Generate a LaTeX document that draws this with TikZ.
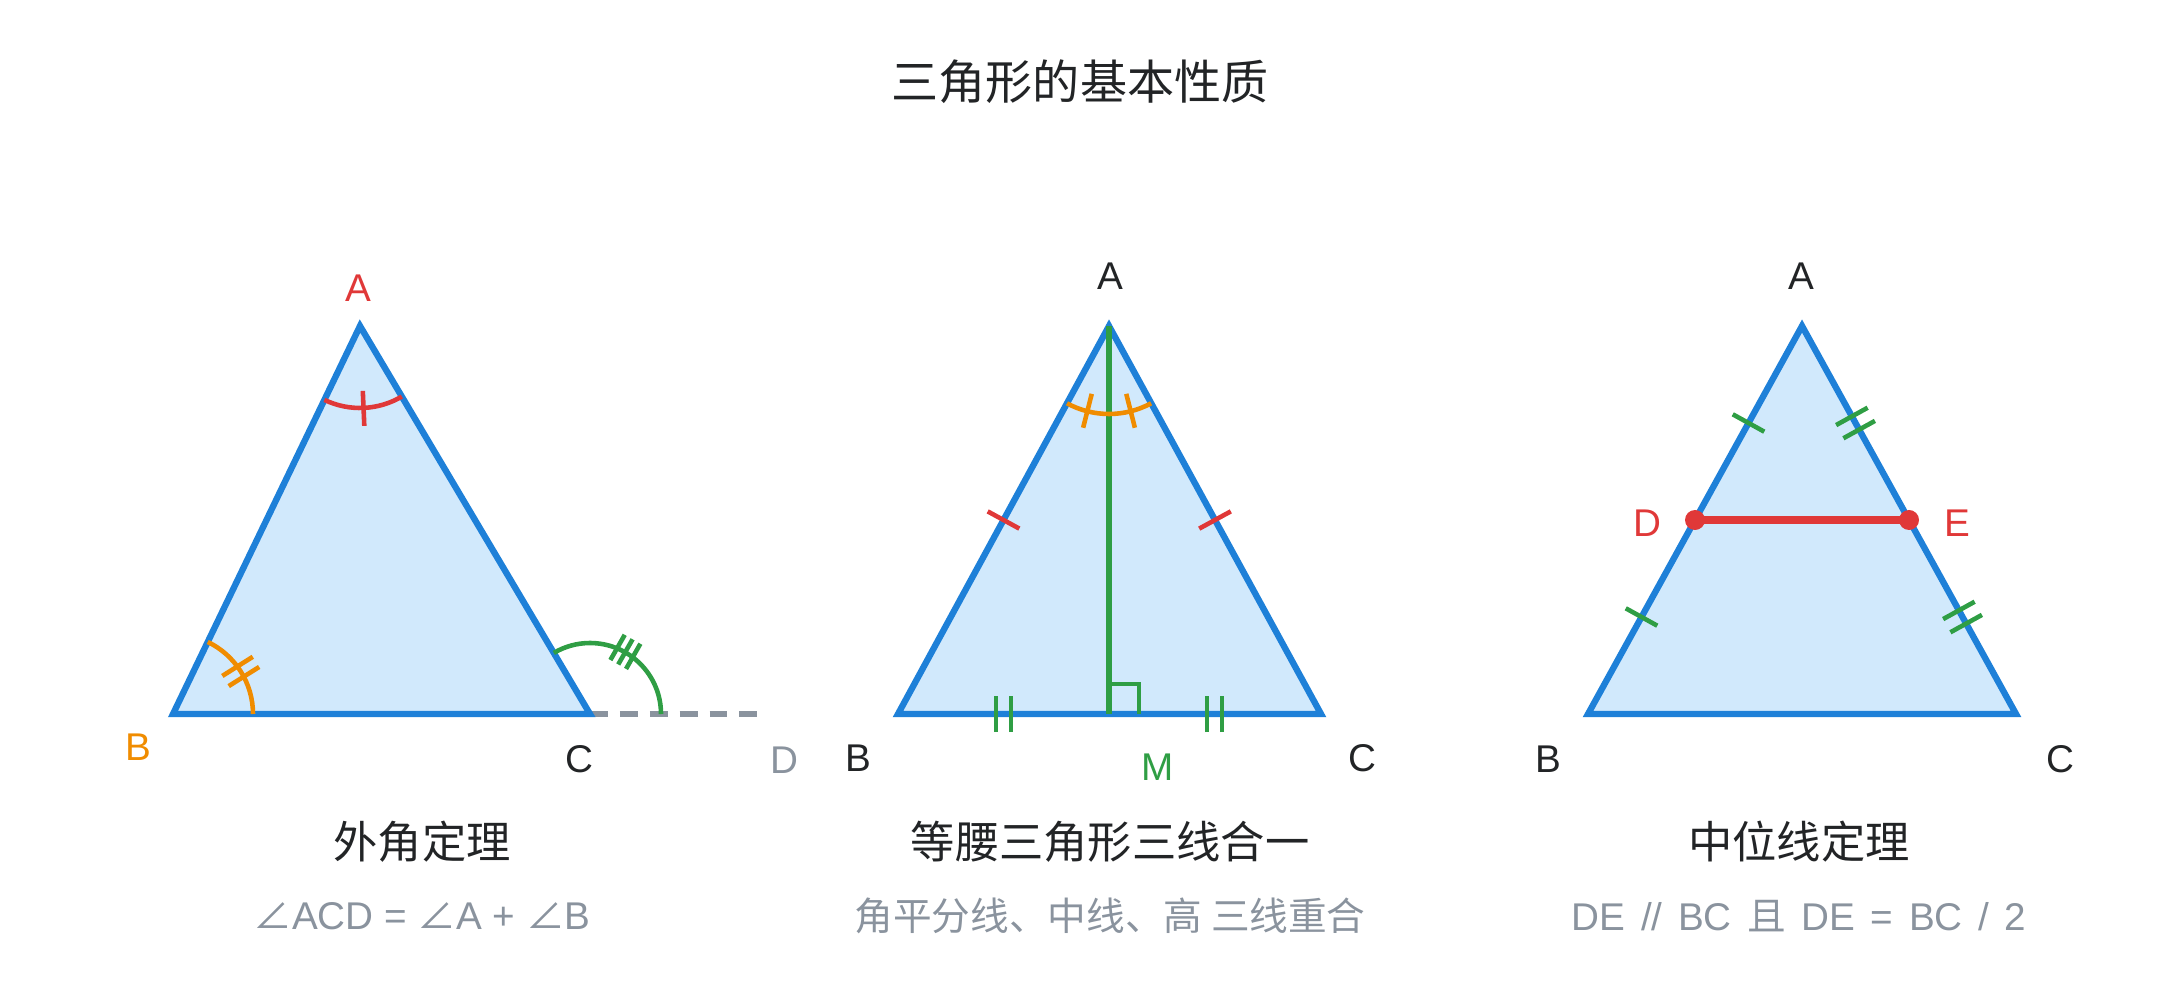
\documentclass[tikz,border=0pt]{standalone}
\usepackage{fontspec}
\setmainfont{Liberation Sans}
\newfontfamily\cjk{Noto Sans CJK SC}
\newfontfamily\widesp{Liberation Sans}[WordSpace=1.45]
\usetikzlibrary{calc}
\definecolor{triblue}{RGB}{30,128,216}
\definecolor{trifill}{RGB}{209,233,252}
\definecolor{mkred}{RGB}{224,56,56}
\definecolor{mkorange}{RGB}{240,140,0}
\definecolor{mkgreen}{RGB}{47,158,68}
\definecolor{txtgray}{RGB}{138,147,158}
\definecolor{txtdark}{RGB}{34,36,38}
\tikzset{tri/.style={draw=triblue,fill=trifill,line width=1.8pt}}
\tikzset{tickmk/.style={line width=1.3pt}}
\tikzset{vlabel/.style={font=\fontsize{11}{13}\selectfont,text=txtdark}}
\tikzset{caption/.style={font=\cjk\fontsize{12.6}{15}\selectfont,text=txtdark}}
\tikzset{subcap/.style={font=\fontsize{11}{13}\selectfont,text=txtgray}}

\begin{document}
\begin{tikzpicture}
  \useasboundingbox (0,0) rectangle (21.6,9.9);
  \node[font=\cjk\fontsize{13.4}{16}\selectfont,text=txtdark] (title) at (10.80,9.08) {三角形的基本性质};

  % exterior angle
  \coordinate (A1) at (3.60,6.64);
  \coordinate (B1) at (1.73,2.76);
  \coordinate (C1) at (5.90,2.76);
  \coordinate (D1) at (7.63,2.76);
  \draw[txtgray,line width=1.5pt,dash pattern=on 5.1pt off 3.4pt] (C1) -- (D1);
  \draw[tri] (A1) -- (B1) -- (C1) -- cycle;

  \draw[mkred,tickmk] ($(A1)+(244.27:0.82)$) arc[start angle=244.27,end angle=300.66,radius=0.82];
  \draw[mkred,tickmk] ($(A1)+(272.47:0.65)$) -- ($(A1)+(272.47:1.0)$);

  \draw[mkorange,tickmk] ($(B1)+(0:0.8)$) arc[start angle=0,end angle=64.27,radius=0.8];
  \foreach \s in {-0.06,0.06}{
               \draw[mkorange,tickmk] ($(B1)+(32.13:0.62)+(122.13:\s)$) -- ++(32.13:0.36);
};

  \draw[mkgreen,tickmk] ($(C1)+(0:0.71)$) arc[start angle=0,end angle=120.66,radius=0.71];
  \foreach \s in {-0.09,0,0.09}{
               \draw[mkgreen,tickmk] ($(C1)+(60.33:0.57)+(150.33:\s)$) -- ++(60.33:0.29);
};

  \node[vlabel,text=mkred] (lA1) at (3.58,7.02) {A};
  \node[vlabel,text=mkorange] (lB1) at (1.38,2.43) {B};
  \node[vlabel] (lC1) at (5.79,2.31) {C};
  \node[vlabel,text=txtgray] (lD1) at (7.84,2.30) {D};
  \node[caption] (cap1) at (4.22,1.48) {外角定理};
  \node[subcap] (sub1) at (4.22,0.74) {{\cjk ∠}ACD = {\cjk ∠}A + {\cjk ∠}B};

  % isosceles
  \coordinate (A2) at (11.09,6.64);
  \coordinate (B2) at (8.98,2.76);
  \coordinate (C2) at (13.21,2.76);
  \coordinate (M2) at (11.09,2.76);
  \draw[tri] (A2) -- (B2) -- (C2) -- cycle;
  \draw[mkgreen,line width=1.8pt] (A2) -- (M2);
  \draw[mkgreen,tickmk] ($(M2)+(0.3,0)$) -- ($(M2)+(0.3,0.3)$) -- ($(M2)+(0,0.3)$);

  \draw[mkorange,tickmk] ($(A2)+(241.46:0.88)$) arc[start angle=241.46,end angle=298.54,radius=0.88];
  \foreach \a in {255.73,284.27}{
               \draw[mkorange,tickmk] ($(A2)+(\a:0.7)$) -- ($(A2)+(\a:1.05)$);
};
  \foreach \v in {B2,C2}{
               \coordinate (tk) at ($(A2)!0.5!(\v)$);
               \draw[mkred,tickmk] ($(tk)!0.18cm!90:(\v)$) -- ($(tk)!0.18cm!-90:(\v)$);
};
  \foreach \x in {9.96,10.11,12.07,12.22}{
               \draw[mkgreen,tickmk] (\x,2.58) -- (\x,2.94);
};

  \node[vlabel] (lA2) at (11.10,7.14) {A};
  \node[vlabel] (lB2) at (8.58,2.32) {B};
  \node[vlabel] (lC2) at (13.62,2.32) {C};
  \node[vlabel,text=mkgreen] (lM2) at (11.58,2.23) {M};
  \node[caption] (cap2) at (11.10,1.48) {等腰三角形三线合一};
  \node[subcap,font=\cjk\fontsize{11}{13}\selectfont] (sub2) at (11.10,0.74) {角平分线、中线、高 三线重合};

  % midline
  \coordinate (A3) at (18.02,6.64);
  \coordinate (B3) at (15.88,2.76);
  \coordinate (C3) at (20.16,2.76);
  \coordinate (D3) at ($(A3)!0.5!(B3)$);
  \coordinate (E3) at ($(A3)!0.5!(C3)$);
  \draw[tri] (A3) -- (B3) -- (C3) -- cycle;

  \foreach \t in {0.25,0.75}{
               \coordinate (tk) at ($(A3)!\t!(B3)$);
               \draw[mkgreen,tickmk] ($(tk)!0.18cm!90:(B3)$) -- ($(tk)!0.18cm!-90:(B3)$);
};
  \foreach \t in {0.233,0.267,0.733,0.767}{
               \coordinate (tk) at ($(A3)!\t!(C3)$);
               \draw[mkgreen,tickmk] ($(tk)!0.18cm!90:(C3)$) -- ($(tk)!0.18cm!-90:(C3)$);
};
  \draw[mkred,line width=2.3pt] (D3) -- (E3);
  \fill[mkred] (D3) circle[radius=0.1];
  \fill[mkred] (E3) circle[radius=0.1];

  \node[vlabel] (lA3) at (18.01,7.14) {A};
  \node[vlabel] (lB3) at (15.48,2.31) {B};
  \node[vlabel] (lC3) at (20.60,2.31) {C};
  \node[vlabel,text=mkred] (lD3) at (16.47,4.67) {D};
  \node[vlabel,text=mkred] (lE3) at (19.57,4.67) {E};
  \node[caption] (cap3) at (17.99,1.48) {中位线定理};
  \node[subcap,font=\widesp\fontsize{11}{13}\selectfont] (sub3) at (17.99,0.74) {DE // BC {\cjk 且} DE = BC / 2};
\end{tikzpicture}
\end{document}
